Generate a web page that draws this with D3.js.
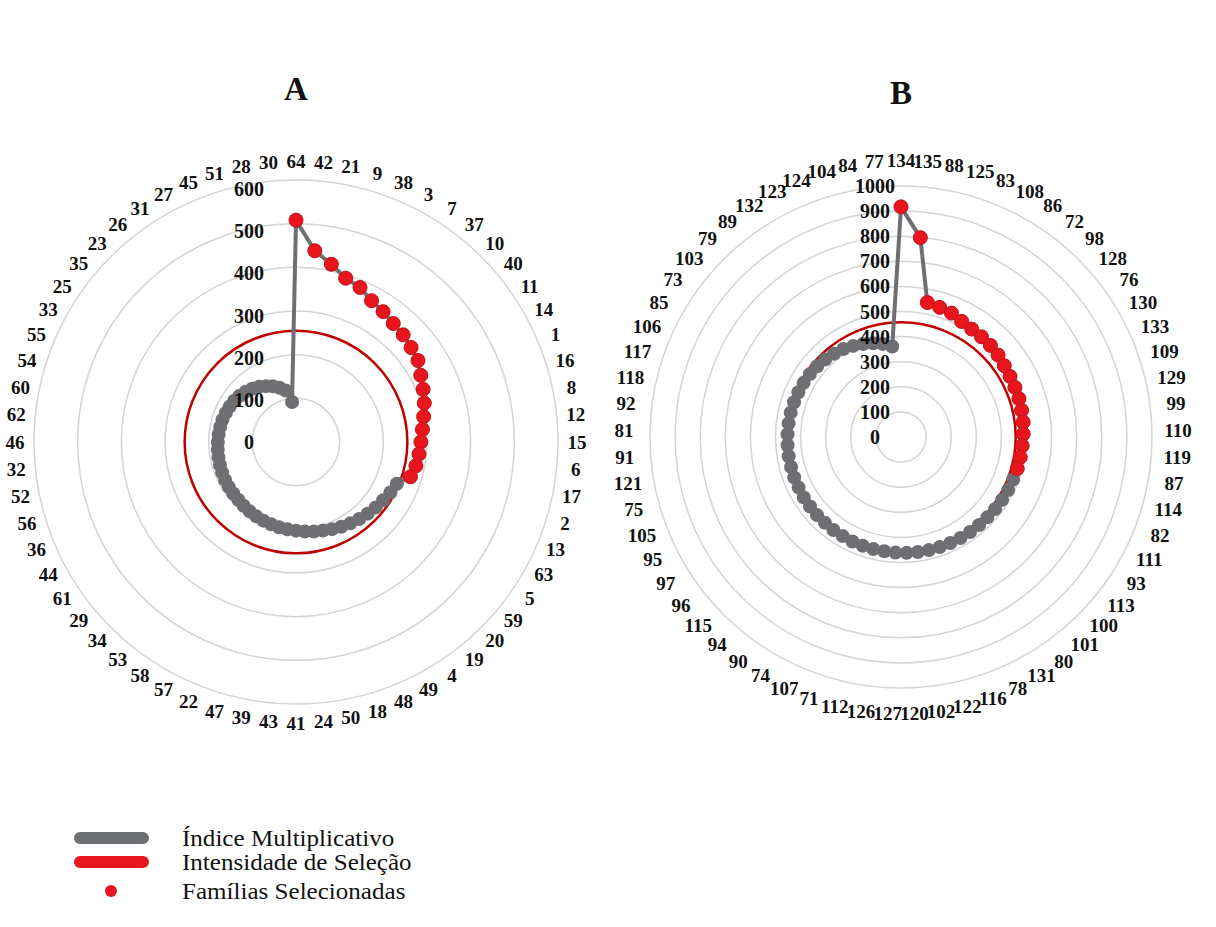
<!DOCTYPE html>
<html>
<head>
<meta charset="utf-8">
<script src="https://cdn.jsdelivr.net/npm/d3@7/dist/d3.min.js"></script>
<style>
  body { margin: 0; background: #fff; }
  text { font-family: "Liberation Serif", "Times New Roman", serif; }
</style>
</head>
<body>
<svg id="chart"></svg>
<script>
var width = 1216;
var height = 927;

// chart A: families ranked by multiplicative index (clockwise from top)
var famA = [64,42,21,9,38,3,7,37,10,40,11,14,1,16,8,12,15,6,17,2,
            13,63,5,59,20,19,4,49,48,18,50,24,41,43,39,47,22,57,58,53,
            34,29,61,44,36,56,52,32,46,62,60,54,55,33,25,35,23,26,31,27,
            45,51,28,30];
var valA = [508,440,415,392,383,367,359,351,347,341,336,324,315,307,298,291,286,283,280,274,
            250,245,240,236,232,228,224,220,216,212,209,206,203,201,199,197,195,193,191,189,
            187,186,185,184,183,182,181,180,179,178,177,176,174,172,170,167,163,158,152,145,
            138,130,120,92];
var selA = [64,42,21,9,38,3,7,37,10,40,11,14,1,16,8,12,15,6,17,2];
var intensA = 255;
var ticksA = [0,100,200,300,400,500,600];

// chart B
var famB = [134,135,88,125,83,108,86,72,98,128,76,130,133,109,129,99,110,119,87,114,
            82,111,93,113,100,101,80,131,78,116,122,102,120,127,126,112,71,107,74,90,
            94,115,96,97,95,105,75,121,91,81,92,118,117,106,85,73,103,79,89,132,
            123,124,104,84,77];
var valB = [917,798,546,539,533,520,514,512,510,506,500,497,495,494,492,490,487,484,482,480,
            478,476,474,472,470,469,468,467,466,465,464,463,462,461,460,460,459,459,458,458,
            457,457,456,456,455,455,454,454,453,452,451,450,448,446,444,441,437,432,426,419,
            410,400,390,378,362];
var selB = [134,135,88,125,83,108,86,72,98,128,76,130,133,109,129,99,110,119,87,114];
var intensB = 457;
var ticksB = [0,100,200,300,400,500,600,700,800,900,1000];

var legendItems = ["Índice Multiplicativo", "Intensidade de Seleção", "Famílias Selecionadas"];

var gray = "#6e6f72";
var red = "#e8161c";
var darkRed = "#c00000";

var svg = d3.select("#chart")
  .attr("width", width)
  .attr("height", height)
  .style("background", "#fff");

function drawRadar(cfg) {
  var n = cfg.fams.length;
  var g = svg.append("g").attr("transform", "translate(" + cfg.cx + "," + cfg.cy + ")");
  var r = d3.scaleLinear().domain([0, d3.max(cfg.ticks)]).range([0, cfg.rMax]);
  var ang = d3.scaleLinear().domain([0, n]).range([0, 2 * Math.PI]);

  // grid rings
  g.selectAll(".ring").data(cfg.ticks.slice(1)).enter()
    .append("circle")
    .attr("r", function(d) { return r(d); })
    .attr("fill", "none")
    .attr("stroke", "#d4d4d4")
    .attr("stroke-width", 1.5);

  // selection intensity ring
  g.append("circle")
    .attr("r", r(cfg.intens))
    .attr("fill", "none")
    .attr("stroke", darkRed)
    .attr("stroke-width", 2.5);

  // index line
  var line = d3.lineRadial()
    .angle(function(d, i) { return ang(i); })
    .radius(function(d) { return r(d); })
    .curve(d3.curveLinearClosed);
  g.append("path")
    .datum(cfg.vals)
    .attr("d", line)
    .attr("fill", "none")
    .attr("stroke", gray)
    .attr("stroke-width", 4)
    .attr("stroke-linejoin", "round");

  var pts = cfg.vals.map(function(v, i) {
    return { fam: cfg.fams[i], x: r(v) * Math.sin(ang(i)), y: -r(v) * Math.cos(ang(i)) };
  });

  g.selectAll(".gdot").data(pts).enter()
    .append("circle")
    .attr("cx", function(d) { return d.x; })
    .attr("cy", function(d) { return d.y; })
    .attr("r", cfg.dotR)
    .attr("fill", gray);

  g.selectAll(".rdot").data(pts.filter(function(d) { return cfg.sel.indexOf(d.fam) >= 0; })).enter()
    .append("circle")
    .attr("cx", function(d) { return d.x; })
    .attr("cy", function(d) { return d.y; })
    .attr("r", cfg.dotR)
    .attr("fill", red)
    .attr("stroke", "#c3161c")
    .attr("stroke-width", 1);

  // value labels
  g.selectAll(".vlab").data(cfg.ticks).enter()
    .append("text")
    .attr("x", cfg.vlabX)
    .attr("y", function(d) { return -r(d) * cfg.vlabK; })
    .attr("dy", "0.35em")
    .attr("text-anchor", "middle")
    .attr("font-size", 20)
    .attr("font-weight", "bold")
    .attr("fill", "#111")
    .text(function(d) { return d; });

  // category labels
  g.selectAll(".clab").data(cfg.fams).enter()
    .append("text")
    .attr("x", function(d, i) { return cfg.rLab * Math.sin(ang(i)); })
    .attr("y", function(d, i) { return -cfg.rLab * Math.cos(ang(i)); })
    .attr("dy", "0.35em")
    .attr("text-anchor", "middle")
    .attr("font-size", 19)
    .attr("font-weight", "bold")
    .attr("fill", "#111")
    .text(function(d) { return d; });

  svg.append("text")
    .attr("x", cfg.cx)
    .attr("y", cfg.titleY)
    .attr("text-anchor", "middle")
    .attr("font-size", 33)
    .attr("font-weight", "bold")
    .attr("fill", "#111")
    .text(cfg.title);
}

drawRadar({ title: "A", titleY: 100, cx: 296, cy: 442, rMax: 262, rLab: 281, vlabX: -47, vlabK: 0.965,
            fams: famA, vals: valA, sel: selA, ticks: ticksA, intens: intensA, dotR: 7 });
drawRadar({ title: "B", titleY: 104, cx: 901, cy: 437, rMax: 251, rLab: 277, vlabX: -26, vlabK: 1,
            fams: famB, vals: valB, sel: selB, ticks: ticksB, intens: intensB, dotR: 7 });

// legend
var leg = svg.append("g");
var ly = [838, 862, 891];
leg.append("line").attr("x1", 80).attr("x2", 143).attr("y1", ly[0]).attr("y2", ly[0])
  .attr("stroke", gray).attr("stroke-width", 12).attr("stroke-linecap", "round");
leg.append("line").attr("x1", 80).attr("x2", 143).attr("y1", ly[1]).attr("y2", ly[1])
  .attr("stroke", red).attr("stroke-width", 12).attr("stroke-linecap", "round");
leg.append("circle").attr("cx", 111).attr("cy", ly[2]).attr("r", 6).attr("fill", red);
leg.selectAll("text").data(legendItems).enter()
  .append("text")
  .attr("transform", function(d, i) { return "translate(182," + ly[i] + ") scale(1.09,1)"; })
  .attr("dy", "0.35em")
  .attr("font-size", 23)
  .attr("fill", "#111")
  .text(function(d) { return d; });
</script>
</body>
</html>
